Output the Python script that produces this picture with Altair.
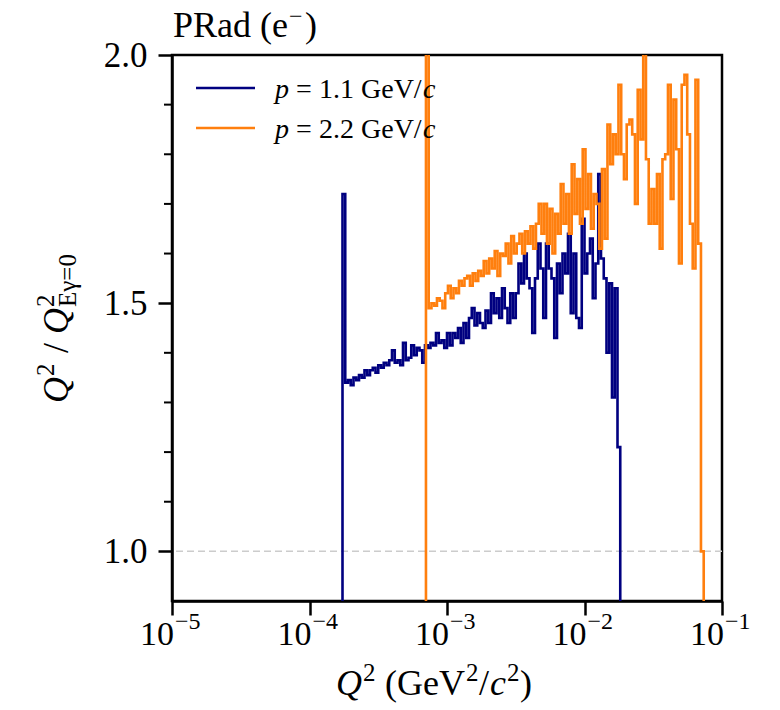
import altair as alt
import pandas as pd

# ---------------- data ----------------
BIN_DEC = 0.02                      # log10 width of one histogram bin
blue_name = "p = 1.1 GeV/c"
orange_name = "p = 2.2 GeV/c"
blue_log_start = -3.76              # log10 of first bin edge
orange_log_start = -3.153

blue_vals = [
    1.72, 1.34, 1.345, 1.335, 1.35, 1.345, 1.355, 1.35, 1.365, 1.355,
    1.365, 1.37, 1.36, 1.375, 1.37, 1.38, 1.375, 1.385, 1.405, 1.38,
    1.385, 1.375, 1.42, 1.385, 1.39, 1.415, 1.395, 1.41, 1.405, 1.38,
    1.415, 1.41, 1.42, 1.415, 1.44, 1.42, 1.425, 1.41, 1.44, 1.415,
    1.44, 1.43, 1.45, 1.42, 1.46, 1.43, 1.47, 1.49, 1.455, 1.48,
    1.46, 1.45, 1.485, 1.46, 1.52, 1.48, 1.51, 1.47, 1.53, 1.49,
    1.46, 1.52, 1.47, 1.52, 1.58, 1.54, 1.60, 1.55, 1.53, 1.44,
    1.55, 1.62, 1.57, 1.47, 1.62, 1.57, 1.55, 1.43, 1.58, 1.52,
    1.60, 1.56, 1.64, 1.48, 1.60, 1.47, 1.45, 1.67, 1.56, 1.60,
    1.63, 1.51, 1.58, 1.76, 1.59, 1.55, 1.40, 1.54, 1.31, 1.53,
    1.21,
]

orange_vals = [
    2.60, 1.49, 1.50, 1.495, 1.51, 1.505, 1.49, 1.52, 1.535, 1.51,
    1.53, 1.52, 1.545, 1.535, 1.55, 1.555, 1.535, 1.56, 1.545, 1.565,
    1.555, 1.585, 1.56, 1.59, 1.57, 1.605, 1.555, 1.60, 1.595, 1.62,
    1.58, 1.635, 1.60, 1.62, 1.64, 1.60, 1.645, 1.62, 1.655, 1.61,
    1.66, 1.70, 1.64, 1.70, 1.62, 1.69, 1.60, 1.68, 1.64, 1.74,
    1.66, 1.72, 1.64, 1.78, 1.68, 1.75, 1.66, 1.81, 1.69, 1.76,
    1.65, 1.72, 1.70, 1.61, 1.77, 1.63, 1.86, 1.78, 1.84, 1.80,
    1.94, 1.80, 1.75, 1.86, 1.87, 1.84, 1.70, 1.93, 1.83, 2.05,
    1.79, 1.66, 1.73, 1.66, 1.76, 1.61, 1.79, 1.80, 1.94, 1.71,
    1.91, 1.81, 1.58, 1.94, 1.96, 1.84, 1.66, 1.57, 1.95, 1.62,
    1.00,
]

x_tick_values = [1e-5, 1e-4, 1e-3, 1e-2, 1e-1]
x_tick_exps = ["\u22125", "\u22124", "\u22123", "\u22122", "\u22121"]
y_major = [1.0, 1.5, 2.0]
y_minor = [1.1, 1.2, 1.3, 1.4, 1.6, 1.7, 1.8, 1.9]
ref_line = [1.0]

series_names = [blue_name, orange_name]
series_colors = ["#000080", "#ff7f0e"]
FLOOR = 0.5  # below the visible axis: histogram drops to zero

# ---------------- build step table ----------------
rows = []
for name, start, vals in [(blue_name, blue_log_start, blue_vals),
                          (orange_name, orange_log_start, orange_vals)]:
    n = len(vals)
    edges = [10 ** (start + BIN_DEC * k) for k in range(n + 1)]
    rows.append(dict(series=name, x=edges[0], y=FLOOR, idx=0))
    for k, v in enumerate(vals):
        rows.append(dict(series=name, x=edges[k], y=v, idx=k + 1))
    rows.append(dict(series=name, x=edges[n], y=FLOOR, idx=n + 1))
df = pd.DataFrame(rows)

SERIF = "Liberation Serif"
W, H = 550, 546

xs = alt.Scale(type="log", domain=[1e-5, 1e-1], nice=False)
ys = alt.Scale(domain=[0.9, 2.0], nice=False, zero=False)
x_axis = alt.Axis(values=x_tick_values, labels=False, title=None, grid=False,
                  tickSize=14, tickWidth=2.5, tickColor="black",
                  domainColor="black", domainWidth=2.5)
y_axis = alt.Axis(values=y_major, format=".1f", title=None, grid=False,
                  tickSize=14, tickWidth=2.5, tickColor="black",
                  domainColor="black", domainWidth=2.5,
                  labelFont=SERIF, labelFontSize=35, labelColor="black",
                  labelPadding=11, labelOverlap=False, labelFlush=False,
                  labelBound=False)

color = alt.Color("series:N", scale=alt.Scale(domain=series_names, range=series_colors),
                  legend=None)

lines = alt.Chart(df).mark_line(interpolate="step-after", strokeWidth=2.6, clip=True).encode(
    x=alt.X("x:Q", scale=xs, axis=x_axis),
    y=alt.Y("y:Q", scale=ys, axis=y_axis),
    color=color,
    order=alt.Order("idx:Q"),
)

dashed = alt.Chart(pd.DataFrame({"y": ref_line})).mark_rule(
    strokeDash=[7, 4], color="#cccccc", strokeWidth=1.5
).encode(y=alt.Y("y:Q", scale=ys, axis=y_axis))

minor = alt.Chart(pd.DataFrame({"y": y_minor})).mark_rule(
    color="black", strokeWidth=2
).encode(y=alt.Y("y:Q", scale=ys, axis=y_axis), x=alt.value(-8), x2=alt.value(0))

tick_df = pd.DataFrame({"x": x_tick_values, "base": ["10"] * 5, "exp": x_tick_exps})
xlab_base = alt.Chart(tick_df).mark_text(
    font=SERIF, fontSize=34, align="right", baseline="alphabetic", dx=2, color="black"
).encode(x=alt.X("x:Q", scale=xs, axis=x_axis), y=alt.value(590), text="base:N")
xlab_exp = alt.Chart(tick_df).mark_text(
    font=SERIF, fontSize=24, align="left", baseline="alphabetic", dx=3, color="black"
).encode(x=alt.X("x:Q", scale=xs, axis=x_axis), y=alt.value(574), text="exp:N")


def txt(s, x, y, size, italic=False, angle=0, align="left"):
    kw = dict(font=SERIF, fontSize=size, align=align, baseline="alphabetic",
              color="black", text=s)
    if italic:
        kw["fontStyle"] = "italic"
    if angle:
        kw["angle"] = angle
    return alt.Chart(pd.DataFrame({"a": [0]})).mark_text(**kw).encode(
        x=alt.value(x), y=alt.value(y))


# x-axis title: Q^2 (GeV^2/c^2)
FS, SS = 36, 25
xt_y = 640
sup_y = xt_y - 14
x0 = 336 - 172
xtitle = [
    txt("Q", x0, xt_y, FS, italic=True),
    txt("2", x0 + 27, sup_y, SS),
    txt("(GeV", x0 + 49, xt_y, FS),
    txt("2", x0 + 130, sup_y, SS),
    txt("/", x0 + 143, xt_y, FS),
    txt("c", x0 + 154, xt_y, FS, italic=True),
    txt("2", x0 + 171, sup_y, SS),
    txt(")", x0 + 184, xt_y, FS),
]

# y-axis title: Q^2 / Q^2_{E_gamma=0}  (rotated, reading upward)
yb = -104          # baseline x of main text (relative to plot)
ytitle = [
    txt("Q", yb, 403 - 55, FS, italic=True, angle=270),
    txt("2", yb - 14, 376 - 55, SS, angle=270),
    txt("/", yb, 362 - 55 - 9, FS, angle=270),
    txt("Q", yb, 334 - 55, FS, italic=True, angle=270),
    txt("2", yb - 14, 307 - 55, SS, angle=270),
    txt("E\u03b3=0", yb + 8, 307 - 55, SS, angle=270),
]

# title PRad (e^-)
title = [
    txt("PRad (e", 1, -18, 36),
    txt("\u2212", 117, -31, 24),
    txt(")", 133, -18, 36),
]

# legend
leg = []
for i, (c, num) in enumerate(zip(series_colors, ["1.1", "2.2"])):
    yy = 33 + 40 * i
    base = yy + 10
    leg.append(alt.Chart(pd.DataFrame({"a": [0]})).mark_rule(color=c, strokeWidth=2.6).encode(
        x=alt.value(24), x2=alt.value(83), y=alt.value(yy)))
    leg.append(txt("p", 103, base, 28, italic=True))
    leg.append(txt("=", 124, base, 28))
    leg.append(txt(f"{num} GeV/", 147, base, 28))
    leg.append(txt("c", 251, base, 28, italic=True))

chart = alt.layer(
    dashed, lines, minor, xlab_base, xlab_exp, *xtitle, *ytitle, *title, *leg
).properties(
    width=W, height=H, background="white",
    padding={"left": 172, "top": 55, "right": 58, "bottom": 109},
    autosize=alt.AutoSizeParams(type="none"),
).configure_view(
    stroke="black", strokeWidth=2.5
)

chart.save("out.html", embed_options={"renderer": "svg", "actions": False})
